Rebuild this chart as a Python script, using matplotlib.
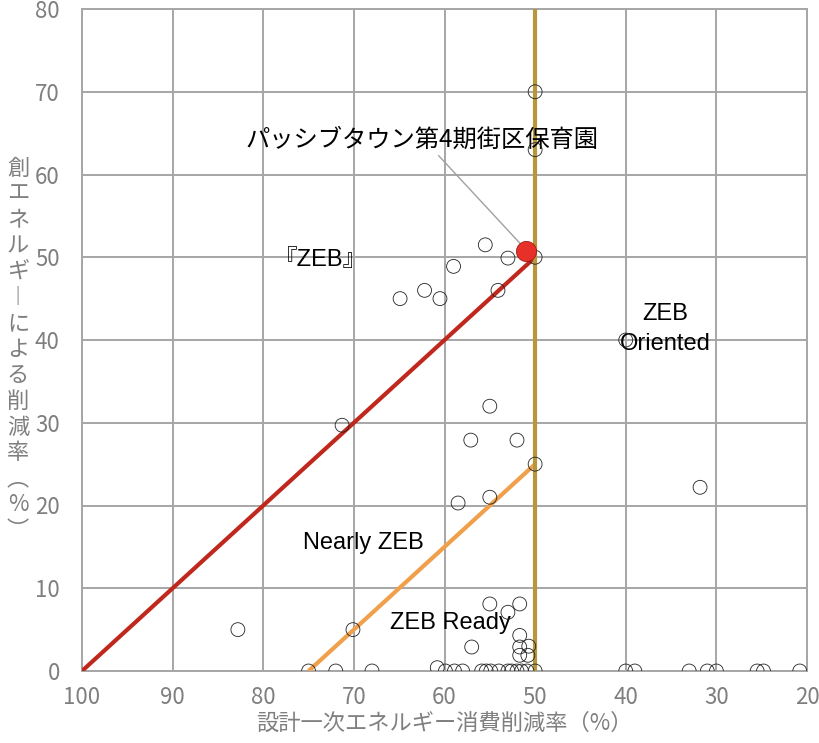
import numpy as np
import matplotlib.pyplot as plt

plt.rcParams['font.family'] = ['Noto Sans CJK JP', 'DejaVu Sans']

# 設計一次エネルギー消費削減率(%) と 創エネルギーによる削減率(%)
x_pts = [75, 72, 68, 60.8, 59.9, 58.9, 58.0, 55.9, 55.4, 54.9, 54.0, 53.0, 52.6, 52.0,
         51.5, 50.9, 50.0, 40, 39, 33, 31, 30, 25.5, 24.8, 20.8,
         50, 50, 50, 55.5, 53.0, 59.0, 62.2, 60.5, 64.9, 54.1,
         55.0, 57.1, 52.0, 50.0, 58.5, 55.0, 71.3, 82.8, 70.1, 31.8, 40,
         55.0, 51.7, 53.0, 51.7, 57.0, 51.7, 50.7, 51.7, 50.8]
y_pts = [0, 0, 0, 0.4, 0, 0, 0, 0, 0, 0, 0, 0, 0, 0,
         0, 0, 0, 0, 0, 0, 0, 0, 0, 0, 0,
         70, 63, 50, 51.5, 49.9, 48.9, 46.0, 45.0, 45.0, 46.0,
         32.0, 27.9, 27.9, 25.0, 20.3, 21.0, 29.7, 5.0, 5.0, 22.2, 40,
         8.1, 8.1, 7.1, 4.3, 2.9, 2.9, 3.0, 1.9, 1.9]

# 対象建物
target_x = [51.0]
target_y = [50.8]
target_name = 'パッシブタウン第4期街区保育園'

# 区分線
zeb_x = [100, 50]
zeb_y = [0, 50]
ready_x = [75, 50]
ready_y = [0, 25]
border_x = [50, 50]
border_y = [0, 80]

x_ticks = [100, 90, 80, 70, 60, 50, 40, 30, 20]
y_ticks = [0, 10, 20, 30, 40, 50, 60, 70, 80]

gray = '#7f7f7f'
grid_c = '#a6a6a6'
latin = ['Liberation Sans', 'Noto Sans CJK JP']

fig = plt.figure(figsize=(8.2, 7.43), dpi=100)
ax = fig.add_axes([82 / 820, 72 / 743, 725 / 820, 662 / 743])

ax.plot(zeb_x, zeb_y, color='#c0281e', lw=3, zorder=3, solid_capstyle='butt')
ax.plot(ready_x, ready_y, color='#f0a04b', lw=3, zorder=3, solid_capstyle='butt')
ax.plot(border_x, border_y, color='#b8963c', lw=3, zorder=3, solid_capstyle='butt')

ax.scatter(x_pts, y_pts, s=100, facecolors='none', edgecolors='#222222', linewidths=0.6, zorder=4)
ax.scatter(target_x, target_y, s=210, color='#e8302a', edgecolors='#a01e14', linewidths=0.6, zorder=5)

ax.set_xlim(100, 20)
ax.set_ylim(0, 80)
ax.set_xticks(x_ticks)
ax.set_yticks(y_ticks)
ax.grid(True, color=grid_c, lw=1.4)
ax.set_axisbelow(True)
for s in ax.spines.values():
    s.set_color(grid_c)
    s.set_linewidth(1.4)
ax.tick_params(length=0, labelsize=16, labelcolor=gray)
ax.tick_params(axis='x', pad=11)
ax.tick_params(axis='y', pad=16)

ax.set_xlabel('設計一次エネルギー消費削減率（%）', fontsize=16, color=gray, labelpad=2)

# 縦書きのy軸ラベル
ylabel = ['創', 'エ', 'ネ', 'ル', 'ギ', '︱', 'に', 'よ', 'る', '削', '減', '率', '︵', '%', '︶']
for i, ch in enumerate(ylabel):
    fig.text(18 / 820, 1 - (168 + i * 25.9) / 743, ch, fontsize=16, color=gray,
             ha='center', va='center')

ax.annotate(target_name, xy=(51.6, 51.6), xytext=(62.5, 64.2), fontsize=17.5,
            ha='center', va='center',
            arrowprops=dict(arrowstyle='-', color='#a0a0a0', lw=1,
                            shrinkA=0, shrinkB=0, relpos=(0.54, 0.0)))

ax.text(73.7, 49.7, '『ZEB』', fontsize=17, family=latin, ha='center', va='center')
ax.text(35.6, 41.3, 'ZEB\nOriented', fontsize=17, family=latin, ha='center', va='center',
        linespacing=1.45)
ax.text(69.0, 15.5, 'Nearly ZEB', fontsize=17, family=latin, ha='center', va='center')
ax.text(59.4, 5.8, 'ZEB Ready', fontsize=17, family=latin, ha='center', va='center')

fig.savefig('out.png', dpi=100)
